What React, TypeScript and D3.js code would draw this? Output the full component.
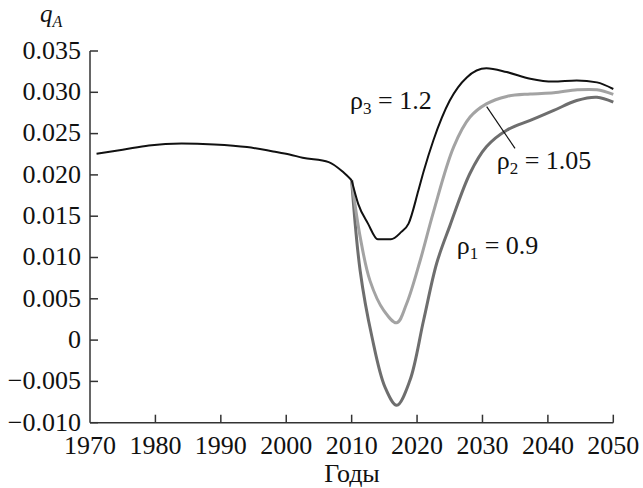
import React from "react";
import * as d3 from "d3";

// ---- data ----
const historyYears = [1971, 1975, 1979, 1984, 1989, 1994, 1998, 2000.5, 2002.5, 2006.5, 2008.7, 2010];
const historyValues = [0.02257, 0.02305, 0.02357, 0.02381, 0.02369, 0.02337, 0.02284, 0.02248, 0.02208, 0.02155, 0.02034, 0.01935];

const rho3Years = [2010, 2011, 2012.5, 2014, 2016, 2017.6, 2018.7, 2020.2, 2021, 2022.5, 2025, 2027.6, 2030.6, 2033.7, 2037.3, 2040.8, 2044.4, 2047.5, 2050];
const rho3Values = [0.01935, 0.0165, 0.0141, 0.0122, 0.0122, 0.0131, 0.0141, 0.0181, 0.0204, 0.0242, 0.029, 0.0318, 0.0329, 0.03245, 0.03165, 0.0313, 0.03144, 0.0312, 0.0304];

const rho2Years = [2010, 2011.3, 2012.8, 2014.9, 2016.9, 2018.4, 2020.5, 2022.5, 2025.6, 2028.1, 2030.6, 2033.7, 2037.3, 2040.9, 2044.5, 2047.5, 2050];
const rho2Values = [0.01935, 0.0125, 0.0072, 0.0036, 0.0021, 0.0044, 0.0097, 0.0155, 0.0234, 0.027, 0.0286, 0.0295, 0.0298, 0.02995, 0.0303, 0.0303, 0.02975];

const rho1Years = [2010, 2011.3, 2013.1, 2015.1, 2016.9, 2018.9, 2021, 2023, 2025, 2028.1, 2030.6, 2033.7, 2037.3, 2040.9, 2044.4, 2047.5, 2050];
const rho1Values = [0.01935, 0.0084, 0.0004, -0.0057, -0.0079, -0.0049, 0.0024, 0.0093, 0.0138, 0.0202, 0.0234, 0.0254, 0.0266, 0.0278, 0.029, 0.0294, 0.0288];

const xTicks = [1970, 1980, 1990, 2000, 2010, 2020, 2030, 2040, 2050];
const yTicks = [-0.01, -0.005, 0, 0.005, 0.01, 0.015, 0.02, 0.025, 0.03, 0.035];
const yTickLabels = ["\u22120.010", "\u22120.005", "0", "0.005", "0.010", "0.015", "0.020", "0.025", "0.030", "0.035"];

const FONT = "Liberation Serif";

export default function App() {
  const x = d3.scaleLinear().domain([1970, 2050]).range([90, 613.3]);
  const y = d3.scaleLinear().domain([-0.01, 0.035]).range([422.7, 51]);

  const mk = (ys: number[], vs: number[], curve: any) =>
    d3
      .line<number>()
      .x((_, i) => x(ys[i]))
      .y((v) => y(v))
      .curve(curve)(vs) as string;

  const histPath = mk(historyYears, historyValues, d3.curveMonotoneX);
  const p3 = mk(rho3Years, rho3Values, d3.curveMonotoneX);
  const p2 = mk(rho2Years, rho2Values, d3.curveCatmullRom);
  const p1 = mk(rho1Years, rho1Values, d3.curveCatmullRom);

  const axisColor = "#333";
  const x0 = x(1970);
  const yb = y(-0.01);
  const ts = { fontFamily: FONT };
  const FS = 26;

  return (
    <svg
      width={643}
      height={488}
      style={{ position: "absolute", left: 0, top: 0, background: "#fff", fontFamily: FONT }}
    >
      {/* axes */}
      <line x1={x0} y1={y(0.035)} x2={x0} y2={yb} stroke={axisColor} strokeWidth={1.5} />
      <line x1={x0} y1={yb} x2={x(2050)} y2={yb} stroke={axisColor} strokeWidth={1.5} />
      {yTicks.map((t, i) => (
        <g key={"y" + i}>
          <line x1={x0} x2={x0 + 8} y1={y(t)} y2={y(t)} stroke={axisColor} strokeWidth={1.5} />
          <text x={81} y={y(t)} dy="0.3em" textAnchor="end" fontSize={FS} fill="#111" style={ts}>
            {yTickLabels[i]}
          </text>
        </g>
      ))}
      {xTicks.map((t) => (
        <g key={"x" + t}>
          {t !== 1970 && (
            <line x1={x(t)} x2={x(t)} y1={yb} y2={yb - 8} stroke={axisColor} strokeWidth={1.5} />
          )}
          <text x={x(t)} y={454} textAnchor="middle" fontSize={FS} fill="#111" style={ts}>
            {t}
          </text>
        </g>
      ))}
      <text x={352} y={481.5} textAnchor="middle" fontSize={FS} fill="#111" style={ts}>
        Годы
      </text>
      <text x={40} y={22} fontSize={25} fontStyle="italic" fill="#111" style={ts}>
        q
        <tspan fontSize={16} dy={5}>A</tspan>
      </text>

      {/* curves */}
      <path d={p1} fill="none" stroke="#6e6e6e" strokeWidth={3} />
      <path d={p2} fill="none" stroke="#a3a3a3" strokeWidth={3} />
      <path d={p3} fill="none" stroke="#111" strokeWidth={2} />
      <path d={histPath} fill="none" stroke="#111" strokeWidth={2} />

      {/* labels */}
      <text x={350} y={108.5} fontSize={FS} fill="#111" style={ts}>
        ρ<tspan fontSize={17} dy={5}>3</tspan>
        <tspan dy={-5}> = 1.2</tspan>
      </text>
      <line x1={486.7} y1={106.7} x2={515} y2={148.3} stroke="#111" strokeWidth={1.2} />
      <text x={496.7} y={168.5} fontSize={FS} fill="#111" style={ts}>
        ρ<tspan fontSize={17} dy={5}>2</tspan>
        <tspan dy={-5}> = 1.05</tspan>
      </text>
      <text x={456.7} y={254} fontSize={FS} fill="#111" style={ts}>
        ρ<tspan fontSize={17} dy={5}>1</tspan>
        <tspan dy={-5}> = 0.9</tspan>
      </text>
    </svg>
  );
}
